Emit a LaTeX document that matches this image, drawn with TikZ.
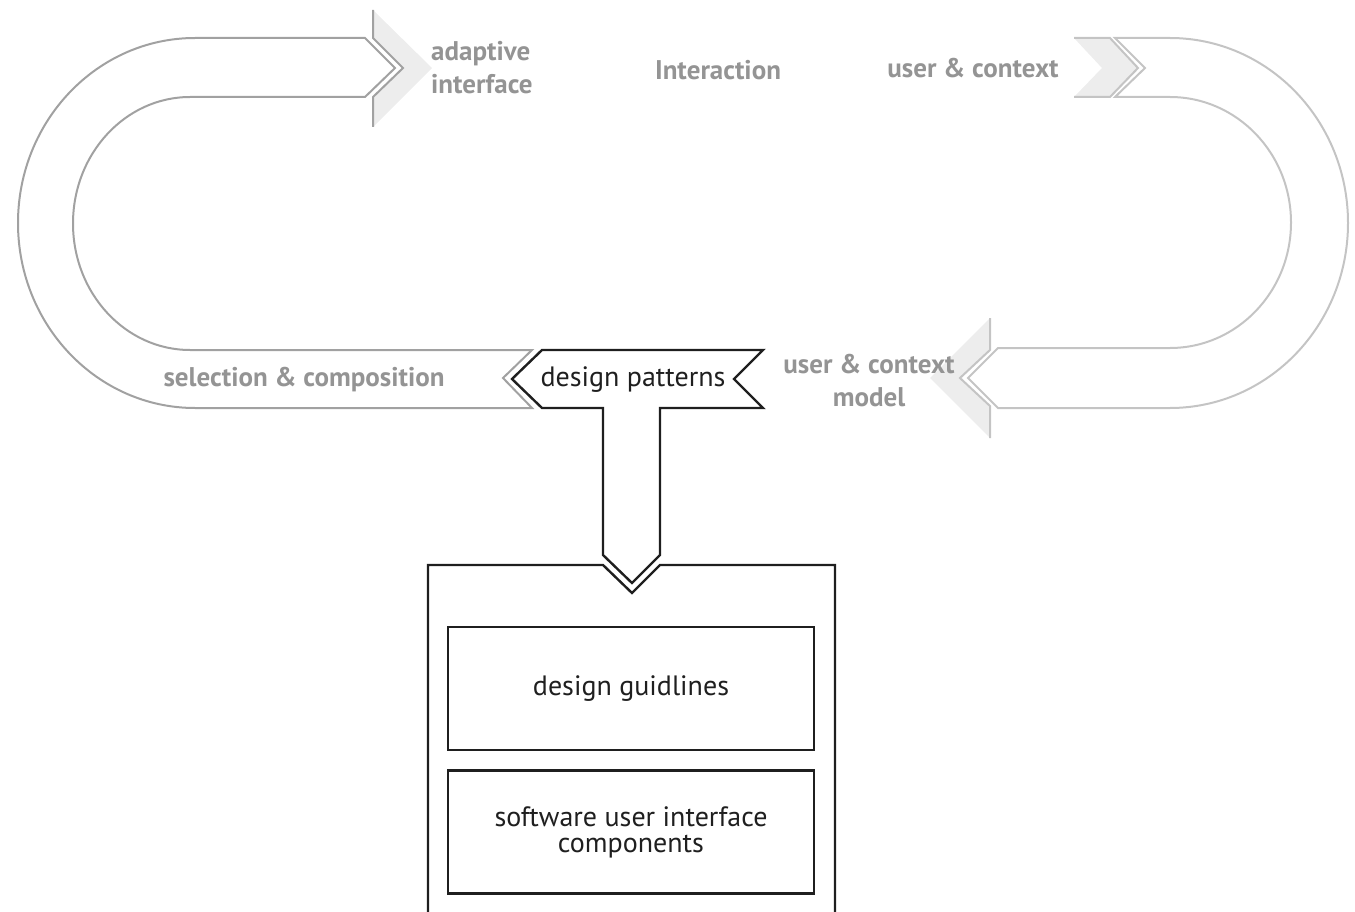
\documentclass[tikz,border=0pt]{standalone}
\usepackage{fontspec}
\setmainfont{PT Sans}
\begin{document}
\begin{tikzpicture}[x=1pt,y=-1pt,
  loopL/.style={draw=black!37, line width=2pt, line join=miter},
  loopR/.style={draw=black!23, line width=2pt, line join=miter},
  chev/.style={fill=black!7},
  blk/.style={draw=black!88, line width=2.4pt, line join=miter},
  glabel/.style={text=black!42, font=\bfseries\fontsize{27}{33}\selectfont, inner sep=0pt},
  blabel/.style={text=black!88, font=\fontsize{28}{26}\selectfont, inner sep=0pt, align=center},
  innerbox/.style={draw=black!88, line width=2.4pt, minimum width=366pt, minimum height=123pt, inner sep=0pt}
]
\useasboundingbox (0,0) rectangle (1355,912);

% ---- left loop (selection -> adaptive interface)
\fill[chev] (373,10) -- (432,68) -- (373,127) -- (373,97) -- (403,68) -- (373,38) -- cycle;
\draw[loopL] (373,10) -- (373,38) -- (403,68) -- (373,97) -- (373,127);
\draw[loopL] (365,97) -- (395,68) -- (365,38) -- (195,38)
  arc[start angle=270, end angle=90, x radius=177, y radius=185] -- (532,408)
  -- (503,378) -- (532,350) -- (190,350)
  arc[start angle=90, end angle=270, x radius=117, y radius=126.5] -- cycle;

% ---- right loop (user & context -> user & context model)
\fill[chev] (1074,38) -- (1110,38) -- (1138,68) -- (1110,97) -- (1074,97) -- (1102,68) -- cycle;
\draw[loopR] (1074,38) -- (1110,38) -- (1138,68) -- (1110,97) -- (1074,97);
\fill[chev] (990,318) -- (930,378) -- (990,438) -- (990,406) -- (960,378) -- (990,350) -- cycle;
\draw[loopR] (990,318) -- (990,350) -- (960,378) -- (990,406) -- (990,438);
\draw[loopR] (1115,38) -- (1170,38)
  arc[start angle=-90, end angle=90, x radius=178, y radius=185] -- (998,408)
  -- (968,378) -- (998,348) -- (1170,348)
  arc[start angle=90, end angle=-90, x radius=121, y radius=125.5] -- (1115,97)
  -- (1145,68) -- cycle;

% ---- design patterns banner with stem
\draw[blk] (542,350) -- (763,350) -- (734,379) -- (763,408) -- (660,408)
  -- (660,555) -- (632,583) -- (603,555) -- (603,408) -- (542,408)
  -- (512,379) -- cycle;

% ---- container box
\draw[blk] (428,920) -- (428,565) -- (603,565) -- (632,593) -- (660,565)
  -- (835,565) -- (835,920);

% ---- labels
\node[glabel, anchor=west, align=left] (adapt) at (431,68) {adaptive\\interface};
\node[glabel] (inter) at (718,70) {Interaction};
\node[glabel] (uc) at (973,68) {user \& context};
\node[glabel, align=center] (ucm) at (869,381) {user \& context\\model};
\node[glabel] (selc) at (304,380) {selection \& composition};
\node[blabel] (dp) at (633,380) {design patterns};

\node[innerbox] (dg) at (631,688.5) {};
\node[blabel] (dgt) at (dg.center) {design guidlines};
\node[innerbox] (sw) at (631,832) {};
\node[blabel] (swt) at (sw.center) {software user interface\\components};
\end{tikzpicture}
\end{document}
